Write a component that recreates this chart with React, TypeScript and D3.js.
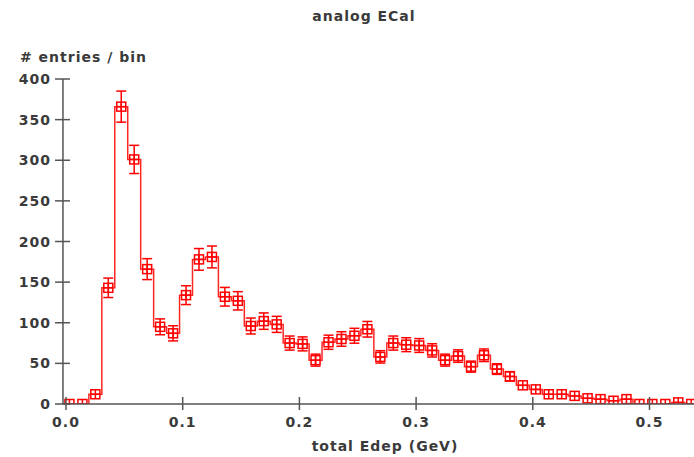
import * as d3 from 'd3';
import React from 'react';

// histogram definition
const BIN_START = -0.0026;
const BIN_WIDTH = 0.0111;
const COUNTS = [
  0, 0, 12, 143, 366, 301, 166, 95, 87, 134,
  178, 181, 132, 127, 96, 102, 98, 75, 74, 54,
  76, 80, 84, 92, 58, 75, 73, 72, 66, 54,
  59, 46, 60, 43, 34, 23, 18, 12, 12, 10,
  7, 6, 4, 6, 0, 0, 0, 2, 0, 0,
];

const X_TICKS = [0, 0.1, 0.2, 0.3, 0.4, 0.5];
const Y_TICKS = [0, 50, 100, 150, 200, 250, 300, 350, 400];

const TITLE = 'analog ECal';
const X_LABEL = 'total Edep (GeV)';
const Y_LABEL = '# entries / bin';

const W = 694;
const H = 457;
const RED = '#ff0000';
const AXIS = '#555';
const TEXT = '#3a3a3a';
const font = {
  fontFamily: 'DejaVu Sans',
  fontWeight: 'bold' as const,
  fontSize: 14,
  letterSpacing: 1,
  fill: TEXT,
};

export default function App() {
  const x = d3.scaleLinear().domain([0, 0.5]).range([66, 649.5]);
  const y = d3.scaleLinear().domain([0, 400]).range([404, 79]);
  const x0 = x(BIN_START);

  const edges = COUNTS.map((c, i) => [BIN_START + i * BIN_WIDTH, c] as [number, number]);
  edges.push([BIN_START + COUNTS.length * BIN_WIDTH, COUNTS[COUNTS.length - 1]]);
  const step = d3.line<[number, number]>()
    .x(d => x(d[0]))
    .y(d => y(d[1]))
    .curve(d3.curveStepAfter)(edges);

  const m = 4.5; // half marker size
  const cap = 5;

  return (
    <svg width={W} height={H} style={{ position: 'absolute', left: 0, top: 0, background: '#fff' }}>
      <defs>
        <clipPath id="plot">
          <rect x={x0} y={60} width={W - x0} height={404 - 60} />
        </clipPath>
      </defs>

      <text x={364} y={21} textAnchor="middle" {...font}>{TITLE}</text>
      <text x={20} y={62} {...font}>{Y_LABEL}</text>
      <text x={385} y={451} textAnchor="middle" {...font}>{X_LABEL}</text>

      <g clipPath="url(#plot)" stroke={RED} fill="none" strokeWidth={1.5}>
        <path d={step || ''} strokeOpacity={0.85} />
        {COUNTS.map((c, i) => {
          const cx = x(BIN_START + (i + 0.5) * BIN_WIDTH);
          const cy = y(c);
          const e = Math.sqrt(c);
          const top = y(c + e);
          const bot = y(c - e);
          return (
            <g key={i}>
              {cy - top > m && (
                <>
                  <line x1={cx} x2={cx} y1={top} y2={bot} />
                  <line x1={cx - cap} x2={cx + cap} y1={top} y2={top} />
                  <line x1={cx - cap} x2={cx + cap} y1={bot} y2={bot} />
                </>
              )}
              <rect x={cx - m} y={cy - m} width={2 * m} height={2 * m} />
              <line x1={cx - m} x2={cx + m} y1={cy} y2={cy} />
              <line x1={cx} x2={cx} y1={cy - m} y2={cy + m} />
            </g>
          );
        })}
      </g>

      <g stroke={AXIS} strokeWidth={1.5}>
        <line x1={x0} x2={W} y1={y(0)} y2={y(0)} />
        <line x1={x0} x2={x0} y1={y(0)} y2={y(400)} />
        {X_TICKS.map(t => (
          <line key={t} x1={x(t)} x2={x(t)} y1={y(0) - 7} y2={y(0) + 6} />
        ))}
        {Y_TICKS.map(t => (
          <line key={t} x1={x0 - 8} x2={x0 + 7} y1={y(t)} y2={y(t)} />
        ))}
      </g>

      {X_TICKS.map(t => (
        <text key={t} x={x(t)} y={427} textAnchor="middle" {...font}>{d3.format('.1f')(t)}</text>
      ))}
      {Y_TICKS.map(t => (
        <text key={t} x={51} y={y(t)} dy="0.36em" textAnchor="end" {...font}>{t}</text>
      ))}
    </svg>
  );
}
